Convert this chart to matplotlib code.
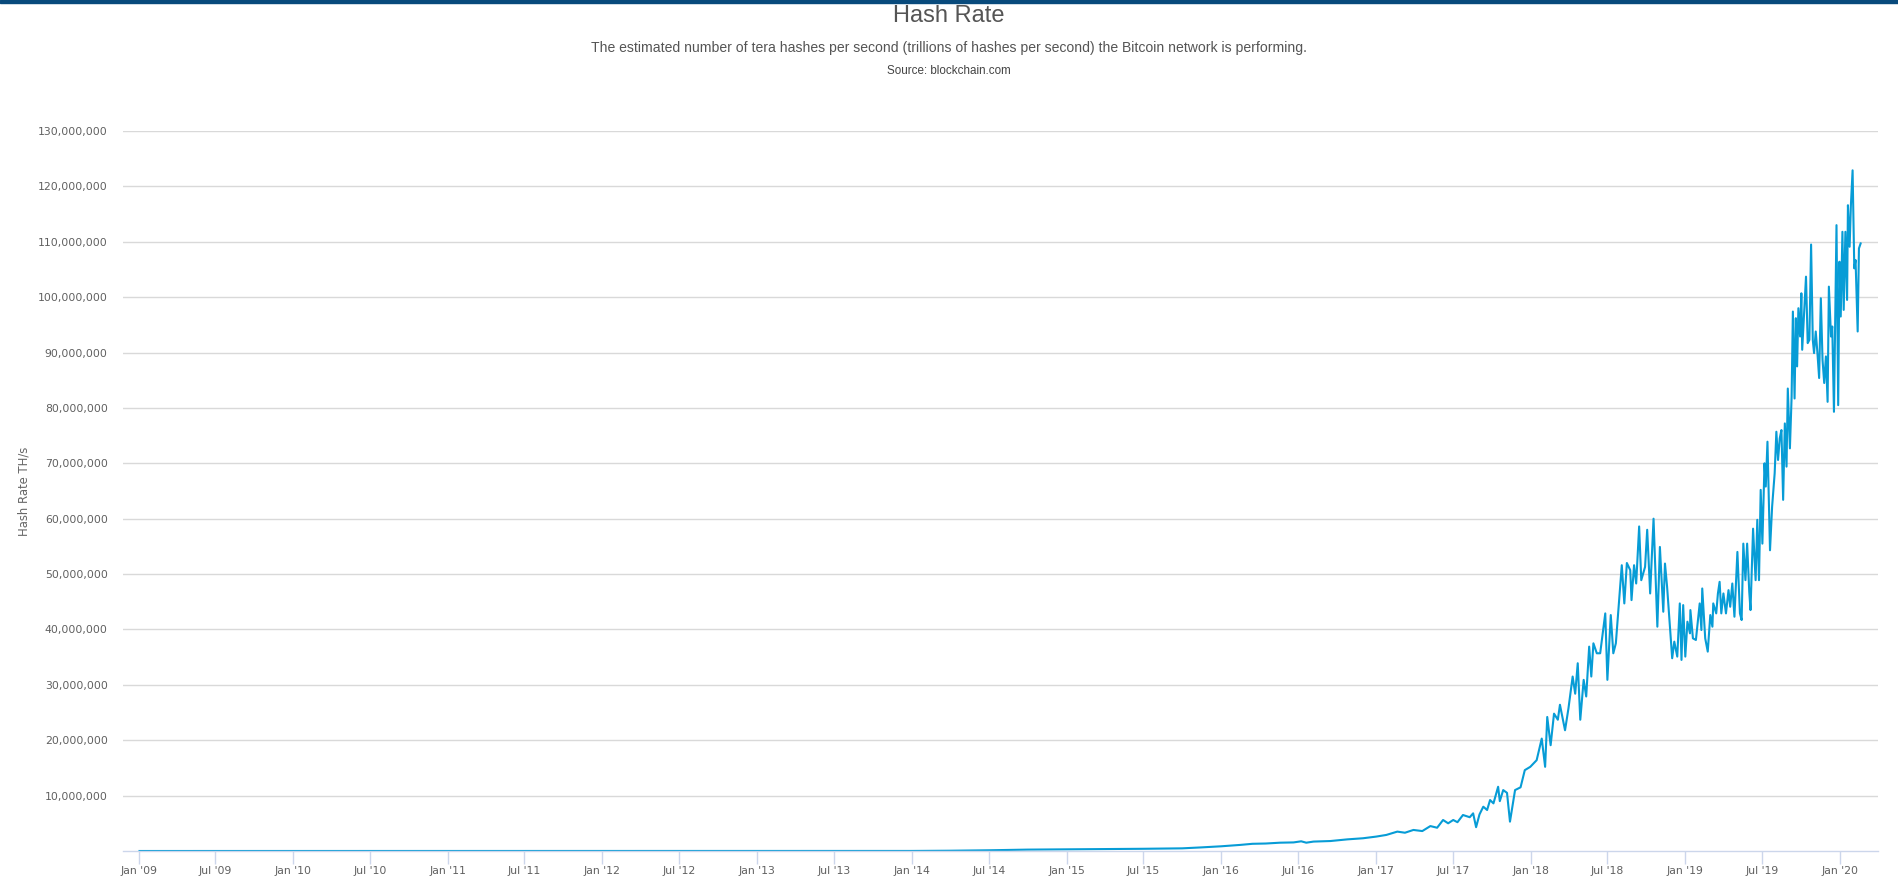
import numpy as np
import pandas as pd
import matplotlib
matplotlib.use("Agg")
from matplotlib import pyplot as plt
from matplotlib.ticker import FuncFormatter

# du lieu doc tu hinh (trieu TH/s)
dates = [
    "2009-01-03", "2010-01-01", "2011-01-01", "2012-01-01", "2013-01-01", "2013-07-01",
    "2014-01-01", "2014-04-01", "2014-07-01", "2014-10-01", "2015-01-01", "2015-04-01",
    "2015-07-01", "2015-10-01", "2015-11-15", "2016-01-01", "2016-02-15", "2016-03-15",
    "2016-04-15", "2016-05-19", "2016-06-20", "2016-07-08", "2016-07-20", "2016-08-06",
    "2016-09-15", "2016-10-25", "2016-12-01", "2017-01-01", "2017-01-25", "2017-02-20",
    "2017-03-10", "2017-03-30", "2017-04-20", "2017-05-09", "2017-05-25", "2017-06-08",
    "2017-06-20", "2017-07-02", "2017-07-12", "2017-07-25", "2017-08-10", "2017-08-18",
    "2017-08-25", "2017-09-02", "2017-09-11", "2017-09-20", "2017-09-27", "2017-10-05",
    "2017-10-16", "2017-10-20", "2017-10-28", "2017-11-06", "2017-11-13", "2017-11-25",
    "2017-12-08", "2017-12-18", "2017-12-31",
    "2018-01-15", "2018-01-27", "2018-02-04", "2018-02-09", "2018-02-17", "2018-02-25",
    "2018-03-06", "2018-03-11", "2018-03-23", "2018-03-31", "2018-04-10", "2018-04-16",
    "2018-04-22", "2018-04-28", "2018-05-06", "2018-05-12", "2018-05-19", "2018-05-24",
    "2018-05-29", "2018-06-06", "2018-06-14", "2018-06-26", "2018-07-01", "2018-07-09",
    "2018-07-15", "2018-07-21", "2018-08-04", "2018-08-10", "2018-08-16", "2018-08-24",
    "2018-08-27", "2018-09-02", "2018-09-07", "2018-09-14", "2018-09-19", "2018-09-28",
    "2018-10-03", "2018-10-10", "2018-10-18", "2018-10-27", "2018-11-02", "2018-11-10",
    "2018-11-14", "2018-11-19", "2018-12-01", "2018-12-06", "2018-12-13", "2018-12-19",
    "2018-12-23", "2018-12-27",
    "2019-01-01", "2019-01-06", "2019-01-12", "2019-01-13", "2019-01-19", "2019-01-26",
    "2019-02-04", "2019-02-08", "2019-02-10", "2019-02-17", "2019-02-23", "2019-03-01",
    "2019-03-06", "2019-03-08", "2019-03-15", "2019-03-19", "2019-03-23", "2019-03-27",
    "2019-04-01", "2019-04-07", "2019-04-13", "2019-04-17", "2019-04-22", "2019-04-27",
    "2019-05-04", "2019-05-10", "2019-05-14", "2019-05-18", "2019-05-23", "2019-05-27",
    "2019-06-01", "2019-06-04", "2019-06-10", "2019-06-16", "2019-06-20", "2019-06-24",
    "2019-06-28", "2019-07-02", "2019-07-07", "2019-07-10", "2019-07-14", "2019-07-20",
    "2019-07-25", "2019-07-31", "2019-08-04", "2019-08-08", "2019-08-12", "2019-08-16",
    "2019-08-20", "2019-08-24", "2019-08-28", "2019-08-31", "2019-09-05", "2019-09-09",
    "2019-09-12", "2019-09-16", "2019-09-19", "2019-09-22", "2019-09-25", "2019-09-29",
    "2019-10-02", "2019-10-04", "2019-10-08", "2019-10-13", "2019-10-17", "2019-10-21",
    "2019-10-25", "2019-10-29", "2019-11-01", "2019-11-05", "2019-11-09", "2019-11-13",
    "2019-11-17", "2019-11-21", "2019-11-25", "2019-11-29", "2019-12-03", "2019-12-06",
    "2019-12-11", "2019-12-14", "2019-12-18", "2019-12-24", "2019-12-28", "2019-12-31",
    "2020-01-03", "2020-01-07", "2020-01-10", "2020-01-14", "2020-01-18", "2020-01-20",
    "2020-01-24", "2020-01-27", "2020-01-31", "2020-02-04", "2020-02-07", "2020-02-09",
    "2020-02-12", "2020-02-15", "2020-02-19",
]
hash_rate_m = [
    0.0, 0.0, 0.0, 0.0, 0.00002, 0.0003,
    0.01, 0.05, 0.13, 0.25, 0.31, 0.35,
    0.40, 0.48, 0.65, 0.85, 1.1, 1.3,
    1.35, 1.5, 1.55, 1.75, 1.5, 1.7,
    1.8, 2.1, 2.3, 2.6, 2.9, 3.5,
    3.3, 3.8, 3.6, 4.5, 4.2, 5.6,
    5.0, 5.6, 5.2, 6.5, 6.1, 6.8,
    4.3, 6.6, 8.0, 7.4, 9.2, 8.6,
    11.6, 9.0, 11.0, 10.5, 5.3, 11.0,
    11.5, 14.6, 15.2,
    16.4, 20.3, 15.2, 24.2, 19.1, 24.8,
    23.7, 26.4, 21.8, 25.7, 31.5, 28.4,
    33.9, 23.7, 30.9, 27.9, 36.9, 31.5,
    37.5, 35.7, 35.7, 42.9, 30.9, 42.6,
    35.7, 37.5, 51.6, 44.7, 52.0, 50.7,
    45.3, 51.6, 48.3, 58.6, 48.9, 51.3,
    58.0, 46.5, 60.0, 40.5, 54.9, 43.2,
    51.9, 47.7, 34.8, 37.8, 35.1, 44.7,
    34.5, 44.4,
    35.1, 41.4, 39.3, 43.5, 38.4, 38.1,
    44.7, 39.9, 47.4, 38.4, 36.0, 42.6,
    40.5, 44.7, 42.9, 46.5, 48.6, 42.9,
    46.5, 42.9, 47.1, 44.1, 48.3, 42.3,
    54.0, 42.9, 41.7, 55.5, 48.9, 55.5,
    46.8, 43.5, 58.2, 48.9, 59.8, 48.9,
    65.2, 55.5, 70.0, 65.8, 73.9, 54.3,
    62.2, 68.2, 75.7, 70.6, 74.5, 76.0,
    63.4, 77.2, 69.4, 83.5, 72.7, 82.0,
    97.4, 81.7, 96.2, 87.5, 98.0, 92.9,
    100.7, 90.5, 96.5, 103.7, 91.7, 92.3,
    109.5, 92.3, 89.9, 93.8, 89.9, 85.4,
    99.8, 88.7, 84.5, 89.3, 81.1, 101.9,
    92.9, 94.7, 79.3, 113.0, 80.5, 106.4,
    96.5, 111.8, 97.7, 111.8, 99.5, 116.6,
    109.1, 116.6, 122.9, 105.2, 106.7, 101.3,
    93.8, 108.8, 109.7,
]

x = pd.to_datetime(dates)
y = np.array(hash_rate_m) * 1e6

W, H = 1898, 881
fig = plt.figure(figsize=(W / 100, H / 100), dpi=100)
fig.patch.set_facecolor("white")

# thanh xanh tren cung
fig.patches.append(plt.Rectangle((0, 1 - 3 / H), 1, 3 / H, transform=fig.transFigure,
                                 color="#084a7c", zorder=10))

ax = fig.add_axes([123 / W, (H - 851) / H, (1878 - 123) / W, (851 - 131) / H])
ax.plot(x, y, color="#079cd6", linewidth=1.5, solid_joinstyle="round")

ax.set_ylim(0, 130e6)
ax.set_xlim(pd.Timestamp("2008-11-25"), pd.Timestamp("2020-03-31"))
ax.set_yticks(np.arange(10e6, 130e6 + 1, 10e6))
ax.yaxis.set_major_formatter(FuncFormatter(lambda v, p: "{:,.0f}".format(v)))

xt = pd.date_range("2009-01-01", "2020-01-01", freq="6MS")
ax.set_xticks(xt)
ax.set_xticklabels([d.strftime("%b '%y") for d in xt])

ax.grid(axis="y", color="#d9d9d9", linewidth=1)
ax.set_axisbelow(True)
for s in ["top", "right", "left"]:
    ax.spines[s].set_visible(False)
ax.spines["bottom"].set_color("#ccd6eb")
ax.spines["bottom"].set_linewidth(1)

ax.tick_params(axis="y", length=0, pad=11, labelsize=7.8, labelcolor="#606060")
ax.tick_params(axis="x", length=9, width=1, color="#ccd6eb", pad=1.5,
               labelsize=7.8, labelcolor="#606060")
for t in ax.get_yticklabels() + ax.get_xticklabels():
    t.set_family("DejaVu Sans")

ax.set_ylabel("Hash Rate TH/s", fontsize=8.4, color="#666666", family="DejaVu Sans")
ax.yaxis.set_label_coords((31 - 123) / (1878 - 123), 0.5)

fig.text(0.5, 1 - 16 / H, "Hash Rate", ha="center", va="center",
         fontsize=17, color="#555555", family="Liberation Sans")
fig.text(0.5, 1 - 48 / H,
         "The estimated number of tera hashes per second (trillions of hashes per second) the Bitcoin network is performing.",
         ha="center", va="center", fontsize=10.1, color="#555555", family="Liberation Sans")
fig.text(0.5, 1 - 71 / H, "Source: blockchain.com", ha="center", va="center",
         fontsize=8.4, color="#444444", family="Liberation Sans")

fig.savefig("out.png", dpi=100)
